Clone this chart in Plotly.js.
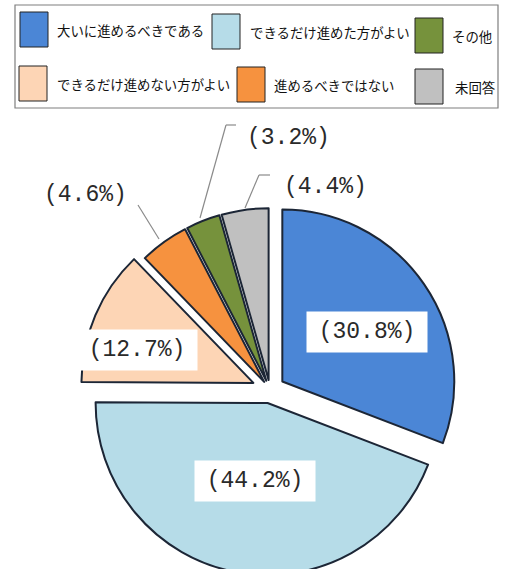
<!DOCTYPE html>
<html>
<head>
<meta charset="utf-8">
<script src="https://cdn.plot.ly/plotly-3.0.1.min.js"></script>
<style>html,body{margin:0;padding:0;background:#fff;overflow:hidden;}#wrap{width:510px;height:569px;overflow:hidden;}</style>
</head>
<body>
<div id="wrap"><div id="chart"></div></div>
<script>
// ---- data ----
var categories = ['大いに進めるべきである','できるだけ進めた方がよい','できるだけ進めない方がよい','進めるべきではない','その他','未回答'];
var shares = [30.8, 44.2, 12.7, 4.6, 3.2, 4.4];
var sliceColors = ['#4b86d6', '#b6dce8', '#fdd5b5', '#f6923f', '#76923c', '#c0c0c0'];
var pulls = [0.087, 0.077, 0.105, 0.058, 0.058, 0.058];

// ---- layout helpers (pixel -> paper) ----
var W = 510, H = 600;   // figure is taller than the visible 569px window; bottom is clipped
function px(x){ return x / W; }
function py(y){ return 1 - y / H; }

// legend grid: order of display (row-major), and positions
var legendOrder = [0, 1, 4, 2, 3, 5];
var legendPos = [
  {sx:20, sy:12, tx:55},  {sx:212, sy:14, tx:248}, {sx:415, sy:18, tx:450},
  {sx:19, sy:66, tx:55},  {sx:237, sy:67, tx:272}, {sx:415, sy:69, tx:453}
];

// label placement (pixel centres) per slice
var labelPos = [
  {x:367, y:332, box:true},
  {x:255, y:481, box:true},
  {x:137, y:350, box:true},
  {x:85,  y:195, box:false},
  {x:288, y:138, box:false},
  {x:325, y:187, box:false}
];
var leaders = [
  [[138,205],[159,239]],
  [[236,125],[226,125],[200,218]],
  [[270,175],[259,175],[245,208]]
];

var shapes = [];
var annotations = [];

// legend frame
shapes.push({type:'rect', xref:'paper', yref:'paper', x0:px(15), x1:px(498), y0:py(5), y1:py(108),
  line:{color:'#7f7f7f', width:1.2}, fillcolor:'rgba(0,0,0,0)'});

legendOrder.forEach(function(idx, k){
  var p = legendPos[k];
  shapes.push({type:'rect', xref:'paper', yref:'paper', x0:px(p.sx), x1:px(p.sx+28), y0:py(p.sy), y1:py(p.sy+35),
    line:{color:'#222', width:1}, fillcolor:sliceColors[idx]});
  annotations.push({xref:'paper', yref:'paper', x:px(p.tx), y:py(p.sy+18), xanchor:'left', yanchor:'middle',
    text:categories[idx], showarrow:false, font:{family:'Noto Sans CJK JP', size:13.4, color:'#111'}});
});

shares.forEach(function(v, i){
  var l = labelPos[i];
  var a = {xref:'paper', yref:'paper', x:px(l.x), y:py(l.y), xanchor:'center', yanchor:'middle',
    text:'(' + v.toFixed(1) + '%)', showarrow:false,
    font:{family:'Liberation Mono', size:23, color:'#2a2a2a'}};
  if (l.box) { a.bgcolor = '#ffffff'; a.width = 120; a.height = 40; a.borderpad = 0; }
  annotations.push(a);
});

leaders.forEach(function(pts){
  for (var j = 0; j < pts.length - 1; j++) {
    shapes.push({type:'line', xref:'paper', yref:'paper',
      x0:px(pts[j][0]), y0:py(pts[j][1]), x1:px(pts[j+1][0]), y1:py(pts[j+1][1]),
      line:{color:'#8a8a8a', width:1.2}});
  }
});

// pie geometry: centre (270, 390), radius ~172 px
var cx = 270, cy = 390, half = 190;
var trace = {
  type:'pie', values:shares, labels:categories, sort:false, direction:'clockwise', rotation:0,
  pull:pulls, textinfo:'none', hoverinfo:'skip', showlegend:false,
  marker:{colors:sliceColors, line:{color:'#1c2636', width:2}},
  domain:{x:[px(cx-205), px(cx+205)], y:[py(cy+half), py(cy-half)]}
};

var layout = {
  width:W, height:H, margin:{l:0, r:0, t:0, b:0}, autosize:false,
  paper_bgcolor:'#ffffff', plot_bgcolor:'#ffffff', showlegend:false,
  shapes:shapes, annotations:annotations
};

Plotly.newPlot('chart', [trace], layout, {staticPlot:true, displayModeBar:false});
</script>
</body>
</html>
